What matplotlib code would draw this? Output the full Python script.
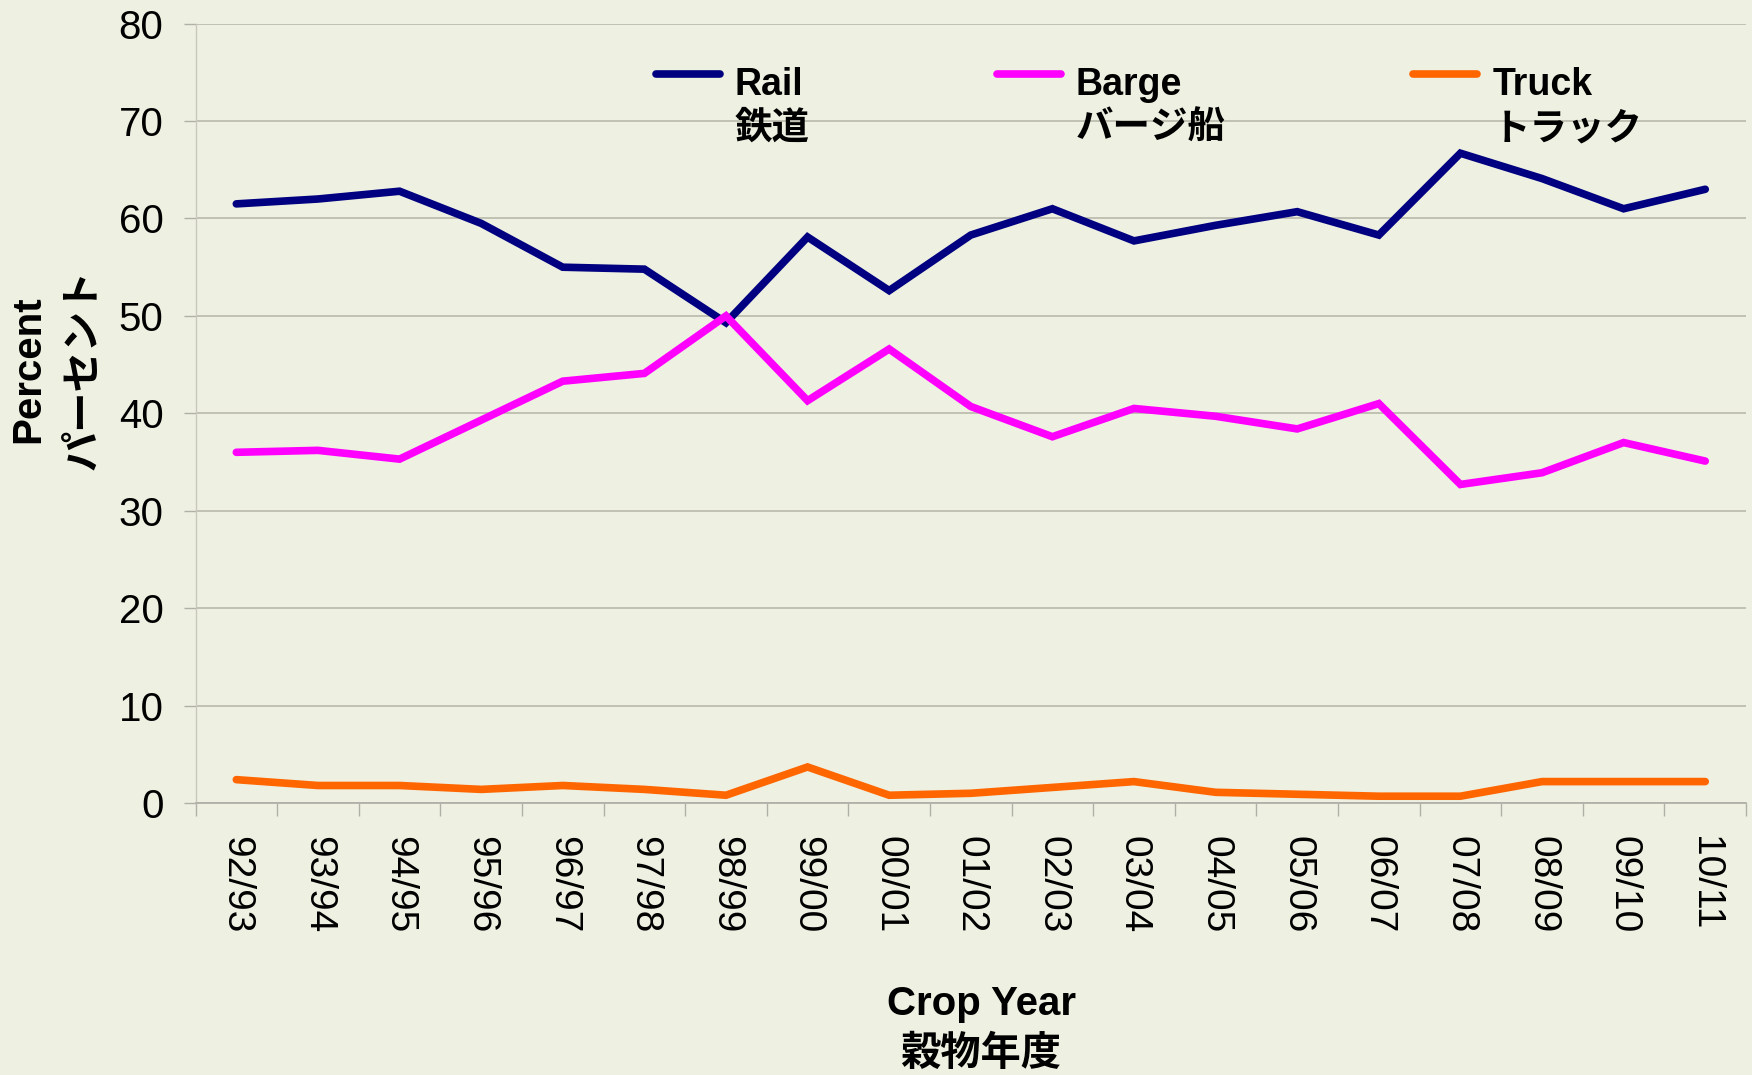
import matplotlib
matplotlib.use("Agg")
import matplotlib.pyplot as plt
import numpy as np

# crop years and modal shares (percent)
years = ["92/93", "93/94", "94/95", "95/96", "96/97", "97/98", "98/99", "99/00",
         "00/01", "01/02", "02/03", "03/04", "04/05", "05/06", "06/07", "07/08",
         "08/09", "09/10", "10/11"]
rail = [61.5, 62.0, 62.8, 59.5, 55.0, 54.8, 49.3, 58.1, 52.6, 58.3,
        61.0, 57.7, 59.3, 60.7, 58.3, 66.7, 64.1, 61.0, 63.0]
barge = [36.0, 36.2, 35.3, 39.3, 43.3, 44.1, 50.0, 41.3, 46.6, 40.7,
         37.6, 40.5, 39.7, 38.4, 41.0, 32.7, 33.9, 37.0, 35.1]
truck = [2.4, 1.8, 1.8, 1.4, 1.8, 1.4, 0.8, 3.7, 0.8, 1.0,
         1.6, 2.2, 1.1, 0.9, 0.7, 0.7, 2.2, 2.2, 2.2]

series_labels = ["Rail\n鉄道", "Barge\nバージ船", "Truck\nトラック"]
colors = ["#000080", "#FF00FF", "#FF6600"]

fonts = ["Liberation Sans", "Noto Sans CJK JP", "DejaVu Sans"]
plt.rcParams["font.family"] = fonts

bg = "#EEF0E1"
fig = plt.figure(figsize=(17.52, 10.75), dpi=100, facecolor=bg)
ax = fig.add_axes([0.1116, 0.253, 0.885, 0.725], facecolor=bg)

x = np.arange(len(years))
for vals, lab, col in zip([rail, barge, truck], series_labels, colors):
    ax.plot(x, vals, color=col, lw=5.5, label=lab, solid_capstyle="round",
            solid_joinstyle="miter")

ax.set_xlim(-0.5, len(years) - 0.5)
ax.set_ylim(0, 80)
ax.set_yticks(range(0, 81, 10))
ax.yaxis.grid(True, color="#BDBDB0", lw=1.3)
ax.set_axisbelow(True)

ax.set_xticks(x)
ax.set_xticklabels(years, rotation=270)
ax.set_xticks(np.arange(-0.5, len(years)), minor=True)
ax.tick_params(axis="x", which="major", length=0, pad=24, labelsize=28)
ax.tick_params(axis="x", which="minor", length=9, width=1, color="#B0B0A8")
ax.tick_params(axis="y", length=9, width=1, color="#B0B0A8", pad=14, labelsize=29)

for s in ["top", "right"]:
    ax.spines[s].set_visible(False)
ax.spines["left"].set_color("#C8C8BC")
ax.spines["left"].set_linewidth(1)
ax.spines["bottom"].set_color("#B0B0A8")
ax.spines["bottom"].set_linewidth(1.3)

ax.set_ylabel("Percent\nパーセント", fontsize=29, fontweight="bold",
              rotation=90, ha="center", va="center", multialignment="center",
              linespacing=1.55)
ax.yaxis.set_label_coords(-0.09, 0.557)
ax.set_xlabel("Crop Year\n穀物年度", fontsize=29, fontweight="bold",
              ha="center", va="center", multialignment="center", linespacing=1.4)
ax.xaxis.set_label_coords(0.5066, -0.29)

leg = ax.legend(loc="upper left", bbox_to_anchor=(0.3744, 0.938),
                bbox_transform=fig.transFigure, ncol=3, frameon=False,
                borderpad=0, borderaxespad=0, handlelength=1.7,
                handletextpad=0.4, columnspacing=5.0,
                prop={"family": fonts, "weight": "bold", "size": 27})
for t in leg.get_texts():
    t.set_linespacing(1.3)
# put the key line next to the first (English) line of each label
for h in leg.legend_handles:
    h.set_ydata(np.asarray(h.get_ydata()) + 24)

fig.savefig("out.png", dpi=100, facecolor=bg)
